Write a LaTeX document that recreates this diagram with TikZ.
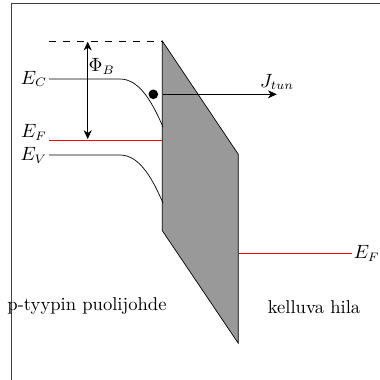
\documentclass[tikz,border=0pt]{standalone}
\usetikzlibrary{arrows.meta}
\begin{document}
\begin{tikzpicture}[x=0.57pt,y=-0.57pt,
  >={Stealth[length=5pt,width=4.6pt,inset=1.6pt]},
  every node/.style={font=\fontsize{10.6pt}{12.7pt}\selectfont},
  band/.style={black},
  fermi/.style={red},
  lbl/.style={inner sep=1pt},
  frameline/.style={black!75,line width=0.7pt}]
\useasboundingbox (0,0) rectangle (380,380);
% frame
\draw[frameline] (11.7,380) -- (11.7,3.8) -- (380,3.8);
% oxide barrier
\draw[fill=black!40] (162.3,41) coordinate (ptl) -- (238.3,154.3) coordinate (ptr)
  -- (238.3,343.3) coordinate (pbr) -- (162.3,230.7) coordinate (pbl) -- cycle;
% levels
\coordinate (dashL) at (49,41.7);
\coordinate (dashR) at (162.3,41.7);
\draw[dash pattern=on 3.8pt off 4.2pt] (dashL) -- (dashR);
\coordinate (ecL) at (49,79);
\coordinate (ecK) at (120,79);
\coordinate (ecE) at (163,127);
\draw[band] (ecL) -- (ecK) .. controls (140,79) and (153,104) .. (ecE);
\coordinate (evL) at (49,155);
\coordinate (evK) at (120,155);
\coordinate (evE) at (163,203);
\draw[band] (evL) -- (evK) .. controls (140,155) and (153,180) .. (evE);
\coordinate (efL) at (49,140);
\coordinate (efR) at (162.3,140);
\draw[fermi] (efL) -- (efR);
\coordinate (efgL) at (238.8,253.4);
\coordinate (efgR) at (351.7,253.4);
\draw[fermi,line width=0.7pt] (efgL) -- (efgR);
% labels
\node[lbl,anchor=east] (EC) at (ecL) {$E_C$};
\node[lbl,anchor=east] (EF) at (49,132) {$E_F$};
\node[lbl,anchor=east] (EV) at (evL) {$E_V$};
\node[lbl,anchor=west] (EFg) at (efgR) {$E_F$};
% barrier height arrow
\coordinate (phiT) at (87.7,41.7);
\coordinate (phiB) at (87.7,139);
\draw[<->] (phiT) -- (phiB);
\node[lbl] (PhiB) at (101.7,66.7) {$\Phi_B$};
% electron and tunnelling current
\fill (153.3,94.3) circle (4.8) coordinate (e);
\coordinate (jS) at (163,94.3);
\coordinate (jE) at (276.7,94.3);
\draw[->] (jS) -- (jE);
\node[lbl] (Jtun) at (277,82) {$J_{tun}$};
% region names
\node (semi) at (87,306) {p-tyypin puolijohde};
\node (gate) at (314,307) {kelluva hila};
\end{tikzpicture}
\end{document}
